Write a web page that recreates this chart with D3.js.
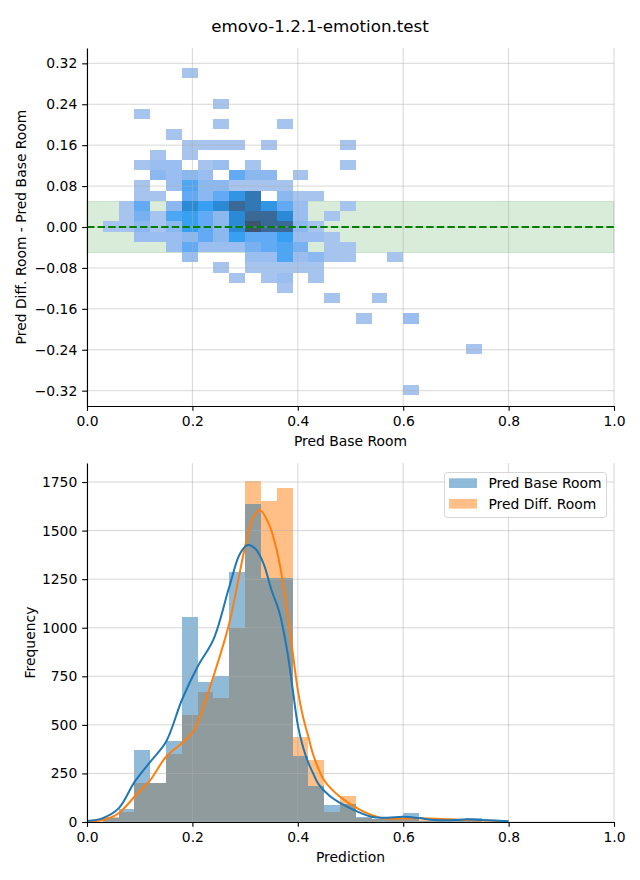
<!DOCTYPE html>
<html><head><meta charset="utf-8">
<script src="https://cdn.jsdelivr.net/npm/d3@7"></script>
<style>
body{margin:0;background:#fff}
svg{display:block}
text{font-family:"DejaVu Sans",sans-serif;fill:#000}
</style>
</head><body>
<svg id="c" width="640" height="880"></svg>
<script>
// ---------- data ----------
const chartTitle = "emovo-1.2.1-emotion.test";
const seriesNames = ["Pred Base Room", "Pred Diff. Room"];
const xTickValues = [0, 0.2, 0.4, 0.6, 0.8, 1.0];
const yTickValuesTop = [-0.32, -0.24, -0.16, -0.08, 0, 0.08, 0.16, 0.24, 0.32];
const yTickValuesBottom = [0, 250, 500, 750, 1000, 1250, 1500, 1750];
const bandHalfWidth = 0.05;

// 2D histogram: bin sizes and cells [xBinIndex, yBinIndex, count]
const heatBinW = 0.03;
const heatBinH = 0.02;
const heatY0 = -0.329;
const heatCells = [
  [6,31,10],
  [8,28,10],
  [3,27,10],
  [8,26,10],[12,26,10],
  [5,25,10],
  [6,24,10],[7,24,10],[8,24,10],[9,24,10],[11,24,10],[16,24,10],
  [4,23,10],[6,23,10],
  [3,22,10],[4,22,36],[5,22,36],[7,22,10],[8,22,36],[10,22,10],[16,22,10],
  [4,21,63],[5,21,36],[6,21,63],[7,21,36],[9,21,116],[10,21,63],[11,21,63],[13,21,10],
  [3,20,10],[5,20,36],[6,20,142],[7,20,63],[8,20,63],[9,20,10],[10,20,10],[11,20,10],[12,20,10],
  [3,19,10],[4,19,10],[6,19,116],[7,19,63],[8,19,116],[9,19,196],[10,19,275],[12,19,63],[13,19,10],[14,19,10],
  [2,18,10],[3,18,116],[5,18,63],[6,18,222],[7,18,169],[8,18,222],[9,18,328],[10,18,275],[11,18,196],[12,18,116],[13,18,36],[16,18,10],
  [2,17,10],[3,17,90],[4,17,10],[5,17,142],[6,17,169],[7,17,116],[8,17,63],[9,17,222],[10,17,328],[11,17,328],[12,17,222],[13,17,36],[15,17,10],
  [1,16,10],[2,16,10],[3,16,63],[4,16,10],[5,16,63],[6,16,169],[7,16,116],[8,16,63],[9,16,222],[10,16,381],[11,16,328],[12,16,328],[13,16,63],[14,16,10],
  [3,15,36],[4,15,36],[5,15,36],[6,15,63],[7,15,116],[8,15,63],[9,15,169],[10,15,116],[11,15,116],[12,15,169],[13,15,36],[14,15,36],[15,15,10],
  [5,14,36],[6,14,116],[7,14,36],[8,14,36],[9,14,36],[10,14,90],[11,14,116],[12,14,142],[13,14,90],[15,14,10],[16,14,10],
  [6,13,36],[10,13,36],[11,13,36],[12,13,142],[13,13,36],[14,13,63],[15,13,10],[16,13,10],[19,13,10],
  [8,12,10],[10,12,10],[11,12,10],[12,12,10],[13,12,10],[14,12,10],
  [9,11,10],[11,11,10],[12,11,36],[14,11,10],
  [12,10,10],
  [15,9,10],[18,9,10],
  [17,7,10],[20,7,36],
  [24,4,10],
  [20,0,10]
];
const heatColorStops = [10, 63, 116, 169, 222, 275, 328, 381];
const heatColors = ["#a6c4ee","#8cb8f0","#63aaf4","#38a0f0","#2b8ad6","#3278b4","#3a6897","#3d5670"];

// 1D histograms (bin width 0.03 starting at 0)
const histBinW = 0.03;
const histBase = [0,20,67,370,200,415,1055,720,750,1285,1638,1255,1255,340,187,87,95,25,15,14,45,6,5,8,20];
const histDiff = [0,25,53,202,200,350,550,670,638,1000,1755,1650,1720,437,320,53,132,22,18,16,18,8,10,14,8];

// KDE curves (count scale)
const kdeBaseX = [0,0.03,0.06,0.09,0.12,0.15,0.18,0.21,0.24,0.27,0.29,0.305,0.32,0.335,0.35,0.365,0.38,0.39,0.40,0.41,0.42,0.43,0.44,0.46,0.48,0.50,0.54,0.57,0.60,0.63,0.66,0.70,0.72,0.75,0.80];
const kdeBaseY = [5,20,70,205,310,413,628,800,940,1211,1380,1426,1405,1330,1194,1080,880,690,500,385,305,245,192,135,98,70,27,22,27,20,10,10,14,10,4];
const kdeDiffX = [0,0.03,0.06,0.09,0.12,0.15,0.18,0.20,0.21,0.24,0.27,0.30,0.315,0.328,0.345,0.36,0.37,0.38,0.39,0.40,0.41,0.42,0.43,0.45,0.48,0.52,0.56,0.60,0.63,0.69,0.75,0.80];
const kdeDiffY = [2,10,45,130,216,336,405,460,510,750,1023,1417,1565,1606,1535,1400,1260,1080,880,680,540,440,340,215,130,60,20,18,19,14,8,4];

// ---------- drawing ----------
const svg = d3.select("#c");
const FS = 13.9;
const blue = "#1f77b4", orange = "#ff7f0e";

svg.append("text").attr("x", 320).attr("y", 32).attr("text-anchor", "middle")
  .style("font-size", "16.7px").text(chartTitle);

function drawGrid(g, x, y, xt, yt) {
  const gg = g.append("g").attr("stroke", "#b0b0b0").attr("stroke-opacity", 0.5).attr("stroke-width", 1);
  xt.forEach(v => gg.append("line").attr("x1", x(v)).attr("x2", x(v)).attr("y1", y.range()[0]).attr("y2", y.range()[1]));
  yt.forEach(v => gg.append("line").attr("y1", y(v)).attr("y2", y(v)).attr("x1", x.range()[0]).attr("x2", x.range()[1]));
}
function styleAxis(sel) {
  sel.selectAll("text").style("font-size", FS + "px").style("font-family", "DejaVu Sans");
  sel.selectAll("line").attr("stroke", "#000").attr("stroke-width", 1.1);
  sel.select(".domain").attr("stroke", "#000").attr("stroke-width", 1.1);
}

// ===== Top chart =====
const xT = d3.scaleLinear([0, 1], [87, 614]);
const yT = d3.scaleLinear([-0.35, 0.35], [406, 48]);
const gTop = svg.append("g");

gTop.append("rect").attr("x", xT(0)).attr("width", xT(1) - xT(0))
  .attr("y", yT(bandHalfWidth)).attr("height", yT(-bandHalfWidth) - yT(bandHalfWidth))
  .attr("fill", "green").attr("fill-opacity", 0.15)
  .attr("stroke", "green").attr("stroke-opacity", 0.15).attr("stroke-width", 1);

const heatColor = d3.scaleLinear().domain(heatColorStops).range(heatColors).clamp(true);
gTop.append("g").selectAll("rect").data(heatCells).join("rect")
  .attr("x", d => xT(d[0] * heatBinW))
  .attr("width", d => xT((d[0] + 1) * heatBinW) - xT(d[0] * heatBinW))
  .attr("y", d => yT(heatY0 + (d[1] + 1) * heatBinH))
  .attr("height", d => yT(heatY0 + d[1] * heatBinH) - yT(heatY0 + (d[1] + 1) * heatBinH))
  .attr("fill", d => heatColor(d[2]))
  .attr("shape-rendering", "crispEdges");

drawGrid(gTop, xT, yT, xTickValues, yTickValuesTop);

gTop.append("line").attr("x1", xT(0)).attr("x2", xT(1)).attr("y1", yT(0)).attr("y2", yT(0))
  .attr("stroke", "green").attr("stroke-width", 2).attr("stroke-dasharray", "7.4,3.2");

gTop.append("g").attr("transform", `translate(0,${yT.range()[0]})`)
  .call(d3.axisBottom(xT).tickValues(xTickValues).tickFormat(d3.format(".1f")).tickSize(4.86).tickPadding(4.86).tickSizeOuter(0))
  .call(styleAxis);
gTop.append("g").attr("transform", `translate(${xT.range()[0]},0)`)
  .call(d3.axisLeft(yT).tickValues(yTickValuesTop).tickFormat(d3.format(".2f")).tickSize(4.86).tickPadding(4.86).tickSizeOuter(0))
  .call(styleAxis);

gTop.append("text").attr("x", (xT.range()[0] + xT.range()[1]) / 2).attr("y", 446)
  .attr("text-anchor", "middle").style("font-size", FS + "px").text("Pred Base Room");
gTop.append("text").attr("transform", `translate(21,${yT(0)}) rotate(-90)`)
  .attr("text-anchor", "middle").attr("dominant-baseline", "central").style("font-size", FS + "px")
  .text("Pred Diff. Room - Pred Base Room");

// ===== Bottom chart =====
const xB = d3.scaleLinear([0, 1], [87, 614]);
const yB = d3.scaleLinear([0, 1848], [822, 463]);
const gBot = svg.append("g");

function bars(data, color) {
  gBot.append("g").selectAll("rect").data(data.map((v, i) => ({i, v})).filter(d => d.v > 0)).join("rect")
    .attr("x", d => xB(d.i * histBinW))
    .attr("width", d => xB((d.i + 1) * histBinW) - xB(d.i * histBinW))
    .attr("y", d => yB(d.v))
    .attr("height", d => yB(0) - yB(d.v))
    .attr("fill", color).attr("fill-opacity", 0.5)
    .attr("shape-rendering", "crispEdges");
}
bars(histDiff, orange);
bars(histBase, blue);

drawGrid(gBot, xB, yB, xTickValues, yTickValuesBottom);

const line = d3.line().x(d => xB(d[0])).y(d => yB(d[1])).curve(d3.curveCatmullRom.alpha(0.5));
gBot.append("path").attr("d", line(d3.zip(kdeDiffX, kdeDiffY))).attr("fill", "none").attr("stroke", orange).attr("stroke-width", 2);
gBot.append("path").attr("d", line(d3.zip(kdeBaseX, kdeBaseY))).attr("fill", "none").attr("stroke", blue).attr("stroke-width", 2);

gBot.append("g").attr("transform", `translate(0,${yB.range()[0]})`)
  .call(d3.axisBottom(xB).tickValues(xTickValues).tickFormat(d3.format(".1f")).tickSize(4.86).tickPadding(4.86).tickSizeOuter(0))
  .call(styleAxis);
gBot.append("g").attr("transform", `translate(${xB.range()[0]},0)`)
  .call(d3.axisLeft(yB).tickValues(yTickValuesBottom).tickFormat(d3.format("d")).tickSize(4.86).tickPadding(4.86).tickSizeOuter(0))
  .call(styleAxis);

gBot.append("text").attr("x", (xB.range()[0] + xB.range()[1]) / 2).attr("y", 862)
  .attr("text-anchor", "middle").style("font-size", FS + "px").text("Prediction");
gBot.append("text").attr("transform", `translate(30,${(yB.range()[0] + yB.range()[1]) / 2}) rotate(-90)`)
  .attr("text-anchor", "middle").attr("dominant-baseline", "central").style("font-size", FS + "px")
  .text("Frequency");

// legend
const lg = gBot.append("g");
lg.append("rect").attr("x", 444.5).attr("y", 472.5).attr("width", 162).attr("height", 45).attr("rx", 2.8)
  .attr("fill", "#fff").attr("fill-opacity", 0.8).attr("stroke", "#cccccc").attr("stroke-opacity", 0.8);
[blue, orange].forEach((c, i) => {
  lg.append("rect").attr("x", 449).attr("y", 478.3 + i * 20.6).attr("width", 28).attr("height", 9.7)
    .attr("fill", c).attr("fill-opacity", 0.5);
  lg.append("text").attr("x", 488.4).attr("y", 488 + i * 20.6).style("font-size", FS + "px").text(seriesNames[i]);
});
</script>
</body></html>
